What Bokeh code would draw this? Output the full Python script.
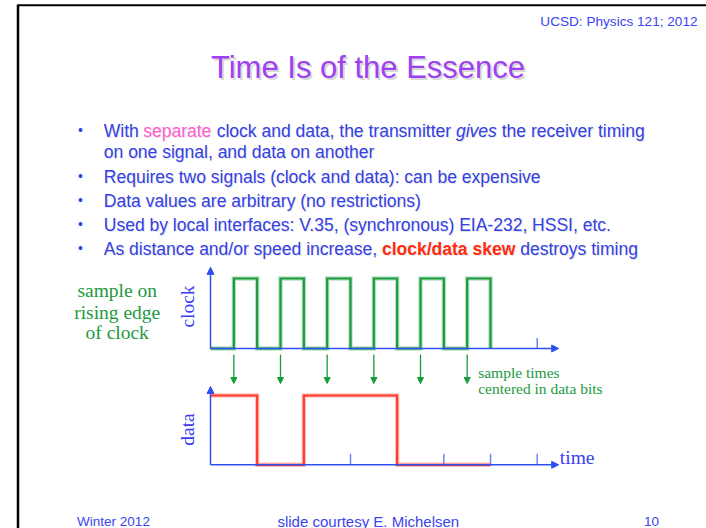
import numpy as np
from bokeh.plotting import figure
from bokeh.models import Range1d, Arrow, NormalHead
from bokeh.core.properties import value
from bokeh.embed import file_html
from bokeh.resources import INLINE

# ---------------- data ----------------
clock_half_levels = [0, 1, 0, 1, 0, 1, 0, 1, 0, 1, 0, 1]   # clock level in each half bit period
data_bits = [1, 0, 1, 1, 0, 0]                             # data value of each bit
sample_times = [0.5, 1.5, 2.5, 3.5, 4.5, 5.5]              # rising clock edges (bit periods)
tick_times = [1, 2, 3, 4, 5, 6, 7]                         # time-axis ticks (bit periods)
time_axis_end = 7.46
clock_axis_top = 1.16
data_axis_top = 1.13

header_text = "UCSD: Physics 121; 2012"
title_text = "Time Is of the Essence"
footer_left = "Winter 2012"
footer_mid = "slide courtesy E. Michelsen"
footer_right = "10"

# bullet text segments: (line index, x, text, colour, style)
BLUE = "#3340e6"
PINK = "#ff5fcf"
RED = "#ff2a10"
bullet_segments = [
    (0, 103.3, "With", BLUE, "normal"),
    (0, 142.7, "separate", PINK, "normal"),
    (0, 216.2, "clock and data, the transmitter", BLUE, "normal"),
    (0, 455.5, "gives", BLUE, "italic"),
    (0, 501.2, "the receiver timing", BLUE, "normal"),
    (1, 103.3, "on one signal, and data on another", BLUE, "normal"),
    (2, 103.3, "Requires two signals (clock and data): can be expensive", BLUE, "normal"),
    (3, 103.3, "Data values are arbitrary (no restrictions)", BLUE, "normal"),
    (4, 103.3, "Used by local interfaces: V.35, (synchronous) EIA-232, HSSI, etc.", BLUE, "normal"),
    (5, 103.3, "As distance and/or speed increase,", BLUE, "normal"),
    (5, 381.5, "clock/data skew", RED, "bold"),
    (5, 519.7, "destroys timing", BLUE, "normal"),
]
line_baselines = [130, 151, 176, 200, 224, 248]
bullet_line_idx = [0, 2, 3, 4, 5]

# ---------------- figure ----------------
W, H = 706, 528
p = figure(width=W, height=H, output_backend="svg", toolbar_location=None,
           x_range=Range1d(0, W), y_range=Range1d(H, 0),
           min_border=0, tools="")
p.axis.visible = False
p.grid.visible = False
p.outline_line_color = None
p.background_fill_color = "white"
p.border_fill_color = "white"

# diagram coordinate systems (bit periods / signal level)
px_per_t, t0_px = 46.67, 210.0
p.extra_x_ranges = {"t": Range1d((0 - t0_px) / px_per_t, (W - t0_px) / px_per_t)}
clk0, clk_scale = 348.0, 70.0
dat0, dat_scale = 464.3, 69.3
p.extra_y_ranges = {
    "clk": Range1d((clk0 - H) / clk_scale, (clk0 - 0) / clk_scale),
    "dat": Range1d((dat0 - H) / dat_scale, (dat0 - 0) / dat_scale),
}

SANS = value("Liberation Sans")
SERIF = value("Liberation Serif")

# slide frame
p.line([17.5, 17.5], [4, 528], line_color="black", line_width=2.5)
p.line([17.5, 706], [4.8, 4.8], line_color="black", line_width=2)

# header / title / footer
p.text([697], [20.7], text=[header_text], text_font=SANS, text_font_size=value("13.6px"),
       text_color="#3a44ee", text_align="right", text_baseline="alphabetic")
p.text([367.5 + 2], [66.7 + 2], text=[title_text], text_font=SANS, text_font_size=value("31px"),
       text_color="#777777", text_alpha=0.3, text_align="center", text_baseline="alphabetic")
p.text([367.5], [66.7], text=[title_text], text_font=SANS, text_font_size=value("31px"),
       text_color="#9d41f2", text_align="center", text_baseline="alphabetic")
p.text([76.6], [520.5], text=[footer_left], text_font=SANS, text_font_size=value("13.5px"),
       text_color="#3a44ee", text_align="left", text_baseline="alphabetic")
p.text([367.8], [520.5], text=[footer_mid], text_font=SANS, text_font_size=value("15px"),
       text_color="#3a44ee", text_align="center", text_baseline="alphabetic")
p.text([651], [520.5], text=[footer_right], text_font=SANS, text_font_size=value("13.5px"),
       text_color="#3a44ee", text_align="center", text_baseline="alphabetic")

# bullets
for li in bullet_line_idx:
    p.text([80], [line_baselines[li] - 1], text=["\u2022"], text_font=SANS,
           text_font_size=value("14px"), text_color=BLUE, text_align="center",
           text_baseline="alphabetic")
for li, x, txt, col, style in bullet_segments:
    y = line_baselines[li]
    p.text([x + 1], [y + 1], text=[txt], text_font=SANS, text_font_size=value("17.5px"),
           text_font_style=style, text_color="#888888", text_alpha=0.22,
           text_baseline="alphabetic")
    p.text([x], [y], text=[txt], text_font=SANS, text_font_size=value("17.5px"),
           text_font_style=style, text_color=col, text_baseline="alphabetic")

# ---------------- timing diagram ----------------
AX = "#2f4ff0"
TICK = "#6a88f5"
GREEN = "#1a9b3c"
GREEN_TXT = "#229a3e"
DRED = "#ff3a2a"

# axes with arrowheads
for yr, top in (("clk", clock_axis_top), ("dat", data_axis_top)):
    p.add_layout(Arrow(x_start=0, y_start=0, x_end=0, y_end=top, x_range_name="t", y_range_name=yr,
                       line_color=AX, line_width=1.5,
                       end=NormalHead(size=7, fill_color=AX, line_color=AX)))
    p.add_layout(Arrow(x_start=0, y_start=0, x_end=time_axis_end, y_end=0, x_range_name="t",
                       y_range_name=yr, line_color=AX, line_width=1.5,
                       end=NormalHead(size=7, fill_color=AX, line_color=AX)))

# ticks
p.segment(x0=tick_times, y0=[0] * len(tick_times), x1=tick_times, y1=[0.15] * len(tick_times),
          x_range_name="t", y_range_name="clk", line_color=TICK, line_width=1.5)
p.segment(x0=tick_times, y0=[0] * len(tick_times), x1=tick_times, y1=[0.16] * len(tick_times),
          x_range_name="t", y_range_name="dat", line_color=TICK, line_width=1.5)

# clock waveform
cx, cy = [], []
for i, lv in enumerate(clock_half_levels):
    cx += [i * 0.5, (i + 1) * 0.5]
    cy += [lv, lv]
cx.append(len(clock_half_levels) * 0.5)
cy.append(0)
p.line(cx, cy, x_range_name="t", y_range_name="clk", line_color=GREEN, line_width=4.5,
       line_alpha=0.3, line_join="miter")
p.line(cx, cy, x_range_name="t", y_range_name="clk", line_color=GREEN, line_width=2.2,
       line_join="miter")

# data waveform
dx, dy = [], []
for i, b in enumerate(data_bits):
    dx += [i, i + 1]
    dy += [b, b]
p.line(dx, dy, x_range_name="t", y_range_name="dat", line_color=DRED, line_width=4.5,
       line_alpha=0.3, line_join="miter")
p.line(dx, dy, x_range_name="t", y_range_name="dat", line_color=DRED, line_width=2.2,
       line_join="miter")

# sample arrows
for st in sample_times:
    p.add_layout(Arrow(x_start=st, y_start=-0.086, x_end=st, y_end=-0.5, x_range_name="t",
                       y_range_name="clk", line_color=GREEN, line_width=1.3,
                       end=NormalHead(size=6, fill_color=GREEN, line_color=GREEN)))

# diagram labels
p.text([116.7] * 3, [290, 311.5, 331.5], text=["sample on", "rising edge", "of clock"],
       text_font=SERIF, text_font_size=value("19.5px"), text_color=GREEN_TXT,
       text_align="center", text_baseline="alphabetic")
p.text([186.5], [306], text=["clock"], angle=np.pi / 2, text_font=SERIF,
       text_font_size=value("19.5px"), text_color="#3a3ef0", text_align="center",
       text_baseline="middle")
p.text([186.5], [429], text=["data"], angle=np.pi / 2, text_font=SERIF,
       text_font_size=value("19.5px"), text_color="#3a3ef0", text_align="center",
       text_baseline="middle")
p.text([477.7, 477.7], [371.7, 387.7], text=["sample times", "centered in data bits"],
       text_font=SERIF, text_font_size=value("15.5px"), text_color=GREEN_TXT,
       text_align="left", text_baseline="alphabetic")
p.text([559.3], [456.7], text=["time"], text_font=SERIF, text_font_size=value("19.5px"),
       text_color="#3a3ef0", text_align="left", text_baseline="alphabetic")

open("out.html", "w").write(file_html(p, INLINE))
